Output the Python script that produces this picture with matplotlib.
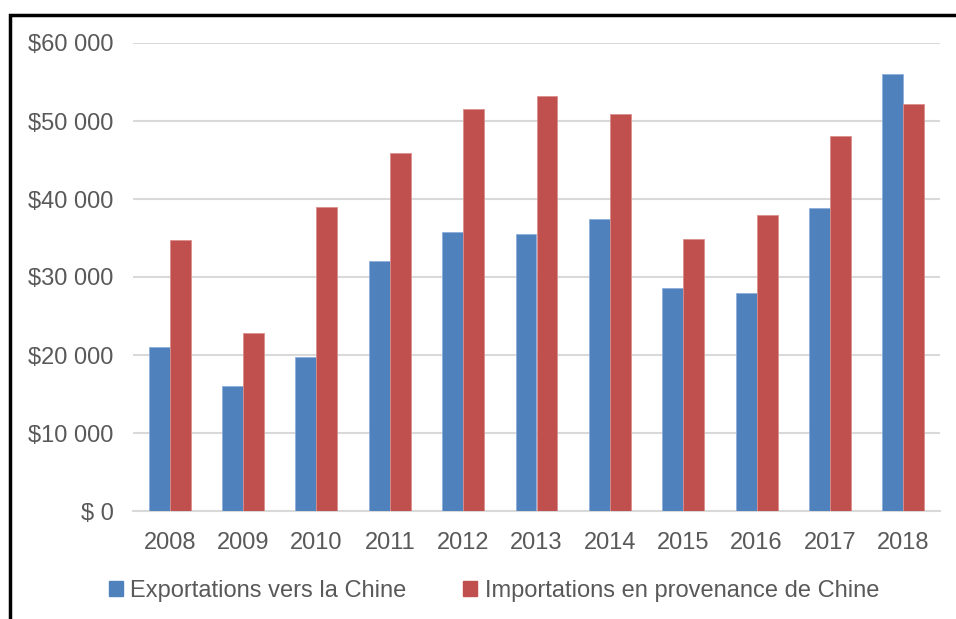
import numpy as np
import matplotlib
matplotlib.use("Agg")
import matplotlib.pyplot as plt
from matplotlib.patches import Rectangle, Patch

# values (in dollars)
years = ["2008", "2009", "2010", "2011", "2012", "2013", "2014", "2015", "2016", "2017", "2018"]
exports = [21000, 16050, 19700, 32000, 35750, 35500, 37400, 28550, 27950, 38800, 56000]
imports = [34750, 22800, 39000, 45950, 51500, 53150, 50900, 34900, 37950, 48050, 52150]
yticks = [0, 10000, 20000, 30000, 40000, 50000, 60000]
ytick_labels = ["$ 0", "$10 000", "$20 000", "$30 000", "$40 000", "$50 000", "$60 000"]
series_names = ["Exportations vers la Chine", "Importations en provenance de Chine"]

blue = "#4F81BD"
red = "#C0504D"
grey = "#595959"

plt.rcParams['font.family'] = ['Liberation Sans', 'DejaVu Sans']

W, H = 956, 619
fig = plt.figure(figsize=(W / 100, H / 100), dpi=100)
ax = fig.add_axes([133 / W, 1 - 511 / H, (940 - 133) / W, (511 - 43) / H])

x = np.arange(len(years))
w = 1 / 3.5
ax.bar(x - w / 2, exports, w, color=blue, edgecolor="#8EAEDB", linewidth=0.6, zorder=3)
ax.bar(x + w / 2, imports, w, color=red, edgecolor="#DB8E8C", linewidth=0.6, zorder=3)

ax.set_xlim(-0.5, len(years) - 0.5)
ax.set_ylim(0, 60000)
ax.set_yticks(yticks)
ax.set_yticklabels(ytick_labels)
ax.set_xticks(x)
ax.set_xticklabels(years)
ax.tick_params(axis="both", length=0, labelsize=17, labelcolor=grey)
ax.tick_params(axis="y", pad=14)
ax.tick_params(axis="x", pad=15)
ax.grid(axis="y", color="#D9D9D9", linewidth=1.5, zorder=0)
for s in ["top", "right", "left"]:
    ax.spines[s].set_visible(False)
ax.spines["bottom"].set_color("#D9D9D9")
ax.spines["bottom"].set_linewidth(1.5)

handles = [Patch(color=blue), Patch(color=red)]
fig.legend(handles, series_names, loc="center", bbox_to_anchor=(494 / W, 1 - 591 / H),
           ncol=2, frameon=False, fontsize=17, labelcolor=grey,
           handlelength=0.6, handleheight=0.6, handletextpad=0.3, columnspacing=2.4)

# black frame around the chart (right and bottom edges fall outside the image)
fig.patches.append(Rectangle((10 / W, -0.1), 1.2, 1.1 - 15 / H, transform=fig.transFigure,
                             fill=False, edgecolor="black", linewidth=2.5))

fig.savefig("out.png", dpi=100)
